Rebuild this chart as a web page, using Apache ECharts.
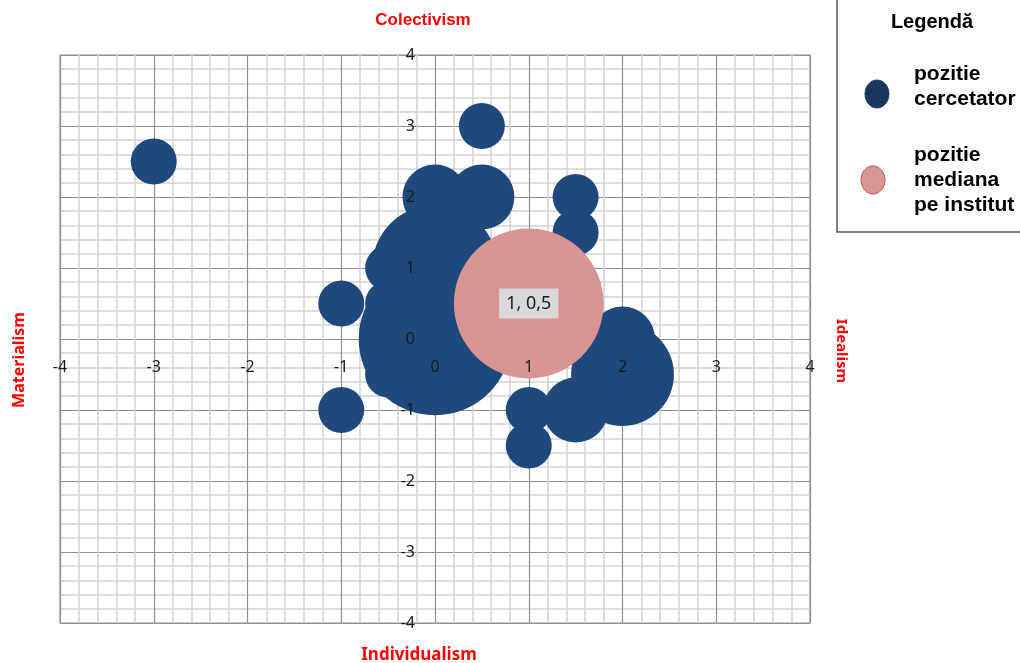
<!DOCTYPE html>
<html><head><meta charset="utf-8">
<script src="https://cdn.jsdelivr.net/npm/echarts@6/dist/echarts.min.js"></script>
<style>html,body{margin:0;padding:0;background:#fff}#c{width:1020px;height:663px}</style>
</head><body><div id="c"></div>
<script>
// Researcher positions (x: Materialism(-) / Idealism(+), y: Individualism(-) / Colectivism(+))
const researcherX = [-3, 0.5, 0, 0.5, 1.5, 1.5, 0, -0.5, -1, -0.5, 0, -0.5, -1, 1, 1, 1.5, 2, 2];
const researcherY = [2.5, 3, 2, 2, 2, 1.5, 1, 1, 0.5, 0.5, 0, -0.5, -1, -1, -1.5, -1, 0, -0.5];
const researcherSize = [1, 1, 2, 2, 1, 1, 7.5, 1, 1, 1, 11, 1, 1, 1, 1, 2, 2, 5];
// Institute median position
const medianX = [1];
const medianY = [0.5];
const medianSize = [10.6];
const medianLabel = ['1, 0,5'];
const tickValues = [-4, -3, -2, -1, 0, 1, 2, 3, 4];

const blueData = researcherX.map((x, i) => [x, researcherY[i], researcherSize[i]]);
const pinkData = medianX.map((x, i) => [x, medianY[i], medianSize[i]]);

const sizeFn = v => Math.sqrt(v[2]) * 46;

const GRID = { left: 60, right: 210, top: 55, bottom: 40 };
const W = 1020, H = 663;
const gw = W - GRID.left - GRID.right, gh = H - GRID.top - GRID.bottom;

const chart = echarts.init(document.getElementById('c'));
// grid-line axes (under the bubbles)
function gridAxis() {
  return {
    type: 'value', min: tickValues[0], max: tickValues[tickValues.length - 1], interval: 1,
    axisLine: { show: false, onZero: false }, axisTick: { show: false }, axisLabel: { show: false },
    minorTick: { show: false, splitNumber: 5 },
    splitLine: { show: true, lineStyle: { color: '#8f8f8f', width: 1.2 } },
    minorSplitLine: { show: true, lineStyle: { color: '#d2d2d2', width: 1.5 } },
    z: 0
  };
}
// label axes (above the bubbles), shifted to the origin lines
function labelAxis(extra) {
  return Object.assign({
    type: 'value', min: tickValues[0], max: tickValues[tickValues.length - 1], interval: 1,
    axisLine: { show: false, onZero: false }, axisTick: { show: false },
    splitLine: { show: false },
    axisLabel: { fontFamily: 'Noto Sans', fontSize: 16, color: '#1a1a1a', margin: 20 },
    z: 10
  }, extra);
}
chart.setOption({
  animation: false,
  grid: Object.assign({ show: true, borderColor: '#8f8f8f', borderWidth: 1.2 }, GRID),
  xAxis: [gridAxis(), labelAxis({ position: 'bottom', offset: -gh / 2 })],
  yAxis: [gridAxis(), labelAxis({ position: 'left', offset: -gw / 2 })],
  series: [
    {
      type: 'scatter', name: 'pozitie cercetator', data: blueData, symbolSize: sizeFn,
      xAxisIndex: 0, yAxisIndex: 0,
      itemStyle: { color: '#1f497d', opacity: 1 }, z: 3
    },
    {
      type: 'scatter', name: 'pozitie mediana pe institut', data: pinkData, symbolSize: sizeFn,
      xAxisIndex: 0, yAxisIndex: 0,
      itemStyle: { color: '#d99594', opacity: 1 }, z: 4,
      label: {
        show: true, position: 'inside', formatter: p => medianLabel[p.dataIndex],
        backgroundColor: '#d9d9d9', padding: [7, 7, 5, 7], color: '#1a1a1a',
        fontFamily: 'Noto Sans', fontSize: 18
      }
    }
  ],
  graphic: [
    { type: 'text', x: 423, y: 20, style: { text: 'Colectivism', fill: '#ff0000', font: 'bold 17px "Liberation Sans"', textAlign: 'center', textVerticalAlign: 'middle' } },
    { type: 'text', x: 419, y: 655, style: { text: 'Individualism', fill: '#ff0000', font: 'bold 17px "Noto Sans"', textAlign: 'center', textVerticalAlign: 'middle' } },
    { type: 'text', x: 19, y: 360, rotation: Math.PI / 2, style: { text: 'Materialism', fill: '#ff0000', font: 'bold 16px "Noto Sans"', textAlign: 'center', textVerticalAlign: 'middle' } },
    { type: 'text', x: 841, y: 351, rotation: -Math.PI / 2, style: { text: 'Idealism', fill: '#ff0000', font: 'bold 15px "Noto Sans"', textAlign: 'center', textVerticalAlign: 'middle' } },
    { type: 'rect', shape: { x: 837, y: -5, width: 200, height: 237 }, style: { fill: '#fff', stroke: '#555', lineWidth: 1.5 } },
    { type: 'text', x: 932, y: 22, style: { text: 'Legendă', fill: '#000', font: 'bold 20px "Liberation Sans"', textAlign: 'center', textVerticalAlign: 'middle' } },
    { type: 'ellipse', shape: { cx: 877, cy: 94, rx: 12, ry: 14 }, style: { fill: '#17375e', stroke: '#1f3f66', lineWidth: 1 } },
    { type: 'text', x: 914, y: 87, style: { text: 'pozitie\ncercetator', fill: '#000', font: 'bold 21px "Liberation Sans"', lineHeight: 25, textAlign: 'left', textVerticalAlign: 'middle' } },
    { type: 'ellipse', shape: { cx: 873, cy: 180, rx: 12, ry: 14 }, style: { fill: '#d99694', stroke: '#c0504d', lineWidth: 1 } },
    { type: 'text', x: 914, y: 180, style: { text: 'pozitie\nmediana\npe institut', fill: '#000', font: 'bold 21px "Liberation Sans"', lineHeight: 25, textAlign: 'left', textVerticalAlign: 'middle' } }
  ]
});
</script></body></html>
